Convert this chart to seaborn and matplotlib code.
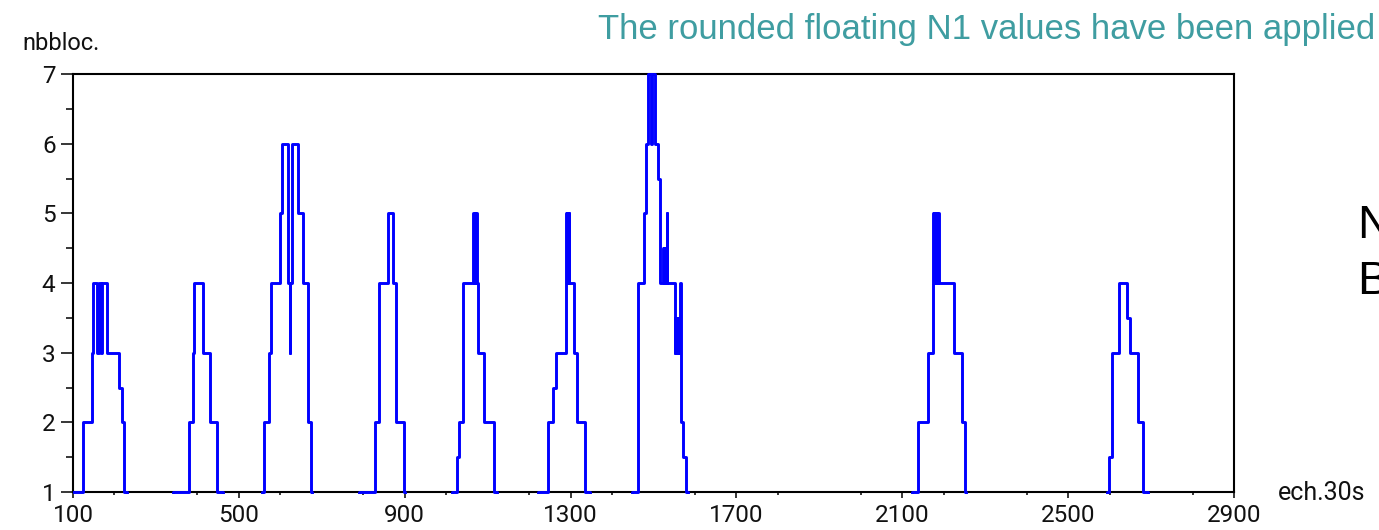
import matplotlib
matplotlib.use("Agg")
import matplotlib.pyplot as plt
from matplotlib.ticker import MultipleLocator, FixedLocator
from matplotlib.transforms import Bbox, TransformedBbox
import seaborn as sns
import pandas as pd

# Step series: sample index (30 s epochs) where each level starts, and the block count
ech = [
    100, 125, 145, 149, 159, 163, 167, 171, 181, 212, 218, 224, 230,
    342, 380, 389, 393, 413, 430, 448, 462,
    555, 560, 572, 578, 599, 603, 618, 623, 624, 629, 643, 655, 667, 673, 677,
    790, 828, 839, 860, 872, 879, 898, 901,
    1013, 1025, 1032, 1041, 1065, 1066, 1067, 1068, 1069, 1070, 1071, 1072, 1073,
    1074, 1077, 1091, 1116, 1122,
    1222, 1246, 1258, 1266, 1290, 1291, 1292, 1293, 1294, 1295, 1296, 1297, 1298,
    1309, 1316, 1336, 1347,
    1447, 1463, 1477, 1481, 1487, 1493, 1497, 1504, 1512, 1516,
    1524, 1525, 1526, 1527, 1528, 1529, 1530, 1531, 1532, 1533,
    1552, 1553, 1554, 1555, 1556, 1557, 1558, 1559, 1560, 1561, 1562, 1563, 1564,
    1565, 1566, 1572, 1578, 1583,
    2123, 2137, 2163, 2175, 2176, 2177, 2178, 2179, 2180, 2181, 2182, 2183, 2184,
    2185, 2186, 2187, 2188, 2189, 2225, 2243, 2251, 2254,
    2593, 2599, 2605, 2623, 2643, 2649, 2669, 2681, 2693,
    2900,
]
nbbloc = [
    1, 2, 3, 4, 3, 4, 3, 4, 3, 2.5, 2, 1, 0,
    1, 2, 3, 4, 3, 2, 1, 0,
    1, 2, 3, 4, 5, 6, 4, 3, 4, 6, 5, 4, 2, 1, 0,
    1, 2, 4, 5, 4, 2, 1, 0,
    1, 1.5, 2, 4, 5, 4, 5, 4, 5, 4, 5, 4, 5,
    4, 3, 2, 1, 0,
    1, 2, 2.5, 3, 5, 4, 5, 4, 5, 4, 5, 4, 4,
    3, 2, 1, 0,
    1, 4, 5, 6, 7, 6, 7, 6, 5.5, 4,
    4.5, 4, 4.5, 4, 4.5, 4, 4.5, 4, 5, 4,
    3, 3.5, 3, 3.5, 3, 3.5, 3, 3.5, 3, 3.5, 3, 3.5, 3,
    4, 2, 1.5, 1, 0,
    1, 2, 3, 5, 4, 5, 4, 5, 4, 5, 4, 5, 4,
    5, 4, 5, 4, 4, 3, 2, 1, 0,
    1, 1.5, 3, 4, 3.5, 3, 2, 1, 0,
    0,
]

x_ticks = [100, 500, 900, 1300, 1700, 2100, 2500, 2900]
y_ticks = [1, 2, 3, 4, 5, 6, 7]

df = pd.DataFrame({"ech": ech, "nbbloc": nbbloc})

sns.set_theme(style="white")
plt.rcParams["font.family"] = ["Roboto", "DejaVu Sans"]

fig = plt.figure(figsize=(13.79, 5.30), dpi=100)
ax = fig.add_axes([73 / 1379, 1 - 492 / 530, (1234 - 73) / 1379, (492 - 74) / 530])

sns.lineplot(data=df, x="ech", y="nbbloc", ax=ax, estimator=None, sort=False,
             drawstyle="steps-post", color="#0000ff", linewidth=2.1, zorder=3)

ax.set_xlim(100, 2900)
ax.set_ylim(1, 7)

# let the trace sit on the frame lines instead of being cut in half
line = ax.lines[0]
line.set_clip_box(TransformedBbox(Bbox([[0, -0.004], [1, 1.004]]), ax.transAxes))

ax.xaxis.set_major_locator(FixedLocator(x_ticks))
ax.xaxis.set_minor_locator(MultipleLocator(200))
ax.yaxis.set_major_locator(FixedLocator(y_ticks))
ax.yaxis.set_minor_locator(MultipleLocator(0.5))
ax.set_xticklabels([str(v) for v in x_ticks])
ax.set_yticklabels([str(v) for v in y_ticks])

ax.tick_params(axis="x", which="major", direction="out", length=4.5, width=1.1,
               color="black", pad=4, labelsize=17.5, labelcolor="#111111",
               bottom=True, top=False)
ax.tick_params(axis="x", which="minor", direction="out", length=2.2, width=1.1,
               color="black", bottom=True, top=False)
ax.tick_params(axis="y", which="major", direction="out", length=8.6, width=1.1,
               color="black", pad=4, labelsize=17.5, labelcolor="#111111",
               left=True, right=False)
ax.tick_params(axis="y", which="minor", direction="out", length=5, width=1.1,
               color="black", left=True, right=False)

for s in ax.spines.values():
    s.set_visible(True)
    s.set_color("black")
    s.set_linewidth(1.5)

ax.set_xlabel("")
ax.set_ylabel("")
ax.grid(False)

fig.text(22 / 1379, 1 - 43 / 530, "nbbloc.", fontsize=17, ha="left", va="center",
         color="#111111")
fig.text(1278 / 1379, 1 - 493 / 530, "ech.30s", fontsize=18, ha="left", va="center",
         color="#111111")

fig.text(1375 / 1379, 1 - 29 / 530, "The rounded floating N1 values have been applied",
         fontsize=25, ha="right", va="center", color="#3f9da1",
         family=["Liberation Sans", "DejaVu Sans"])

fig.text(1357 / 1379, 1 - 226 / 530, "N", fontsize=34, ha="left", va="center",
         color="black", family=["Liberation Sans", "DejaVu Sans"])
fig.text(1357 / 1379, 1 - 282 / 530, "B", fontsize=34, ha="left", va="center",
         color="black", family=["Liberation Sans", "DejaVu Sans"])

fig.savefig("out.png", dpi=100, facecolor="white")
